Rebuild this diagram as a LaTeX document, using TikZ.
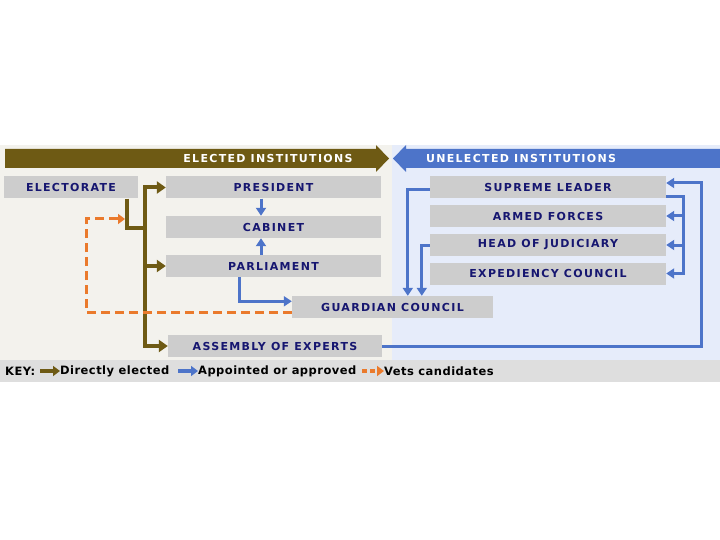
\documentclass[tikz,border=0pt]{standalone}
\usepackage{fontspec}
\usepackage{xcolor}
\usepackage{tikz}
\usetikzlibrary{arrows.meta,calc}

\newfontfamily\instfont{DejaVu Sans}[LetterSpace=12]
\newfontfamily\keyfont{DejaVu Sans}[LetterSpace=4]

\definecolor{electbrown}{RGB}{110,90,20}
\definecolor{apptblue}{RGB}{77,116,201}
\definecolor{vetsorange}{RGB}{234,122,44}
\definecolor{boxgray}{RGB}{205,205,205}
\definecolor{instnavy}{RGB}{22,22,112}
\definecolor{electbg}{RGB}{243,242,237}
\definecolor{unelectbg}{RGB}{230,236,250}
\definecolor{keybg}{RGB}{222,222,222}

\tikzset{
	inst/.style={fill=boxgray, text=instnavy, inner sep=0pt, minimum height=22,
		font=\instfont\bfseries\fontsize{11}{13}\selectfont},
	head/.style={text=white, inner sep=0pt, font=\instfont\bfseries\fontsize{11}{13}\selectfont},
	keytext/.style={text=black, inner sep=0pt, anchor=west, font=\keyfont\bfseries\fontsize{11.5}{13}\selectfont},
	elect/.style={draw=electbrown, line width=4pt, -{Triangle[length=9pt,width=12pt]}},
	electline/.style={draw=electbrown, line width=4pt},
	appt/.style={draw=apptblue, line width=3pt, -{Triangle[length=8pt,width=10pt]}},
	vets/.style={draw=vetsorange, line width=3pt, dash pattern=on 9pt off 5pt, -{Triangle[length=7pt,width=10pt]}},
	keyarrow/.style={line width=3.5pt, -{Triangle[length=7pt,width=10pt]}}
}

\begin{document}
\begin{tikzpicture}[x=1pt, y=-1pt]
	\useasboundingbox (0,0) rectangle (720,540);
	\fill[white] (0,0) rectangle (720,540);
	% Panels, banners, boxes and arrows:
	\fill[electbg] (0,145) rectangle (392,360);
	\fill[unelectbg] (392,145) rectangle (720,360);
	\fill[keybg] (0,360) rectangle (720,382);
	\fill[electbrown] (5,149) -- (376,149) -- (376,145) -- (389,158.5) -- (376,172) -- (376,168) -- (5,168) -- cycle;
	\fill[apptblue] (720,149) -- (406,149) -- (406,145) -- (393,158.5) -- (406,172) -- (406,168) -- (720,168) -- cycle;
	\node[head] (elected) at (268,158.5) {ELECTED INSTITUTIONS};
	\node[head] (unelected) at (521,158.5) {UNELECTED INSTITUTIONS};

	\node[inst, minimum width=134] (electorate) at (71,187.5) {ELECTORATE};
	\node[inst, minimum width=215] (president) at (273.5,187.5) {PRESIDENT};
	\node[inst, minimum width=215] (cabinet) at (273.5,227) {CABINET};
	\node[inst, minimum width=215] (parliament) at (273.5,266) {PARLIAMENT};
	\node[inst, minimum width=201] (guardian) at (392.5,307) {GUARDIAN COUNCIL};
	\node[inst, minimum width=214] (assembly) at (275,346) {ASSEMBLY OF EXPERTS};
	\node[inst, minimum width=236] (leader) at (548,187.5) {SUPREME LEADER};
	\node[inst, minimum width=236] (forces) at (548,216) {ARMED FORCES};
	\node[inst, minimum width=236] (judiciary) at (548,245) {HEAD OF JUDICIARY};
	\node[inst, minimum width=236] (expediency) at (548,273.5) {EXPEDIENCY COUNCIL};

	\coordinate (join) at (145,228);
	\draw[electline] ([xshift=-11pt]electorate.south east) |- (join);
	\draw[elect] (join) |- (president.west);
	\draw[elect] (join) |- (parliament.west);
	\draw[elect] (join) |- (assembly.west);

	\coordinate (vetsTurn) at (86,219);
	\coordinate (vetsIn) at (125,219);
	\draw[vets] ($(guardian.south west)+(0,-6)$) -| (vetsTurn) -- (vetsIn);

	\draw[appt] ($(president.south)+(-12.5,0)$) -- ($(cabinet.north)+(-12.5,0)$);
	\draw[appt] ($(parliament.north)+(-12.5,0)$) -- ($(cabinet.south)+(-12.5,0)$);
	\draw[appt] ($(parliament.south west)+(74,0)$) |- ($(guardian.north west)+(0,5.5)$);
	\draw[appt] ($(leader.west)+(0,2.5)$) -| ($(guardian.north west)+(116,0)$);
	\draw[appt] (judiciary.west) -| ($(guardian.north west)+(130,0)$);

	\coordinate (loop) at (701,183);
	\draw[appt] (assembly.east) -| (loop) -- (loop -| leader.east);
	\coordinate (fan) at (683,197);
	\draw[appt] (fan -| leader.east) -| (fan |- expediency) -- (expediency.east);
	\draw[appt] (fan |- forces) -- (forces.east);
	\draw[appt] (fan |- judiciary) -- (judiciary.east);

	\node[keytext] (keyLabel) at (5,371) {KEY:};
	\node[keytext] (keyElect) at (60,371) {Directly elected};
	\node[keytext] (keyAppt) at (198,371) {Appointed or approved};
	\node[keytext] (keyVets) at (384,371) {Vets candidates};
	\draw[keyarrow, electbrown] ($(keyElect.west)+(-20,0)$) -- (keyElect.west);
	\draw[keyarrow, apptblue] ($(keyAppt.west)+(-20,0)$) -- (keyAppt.west);
	\draw[keyarrow, vetsorange, dash pattern=on 5pt off 3pt] ($(keyVets.west)+(-22,0)$) -- (keyVets.west);
\end{tikzpicture}
\end{document}
